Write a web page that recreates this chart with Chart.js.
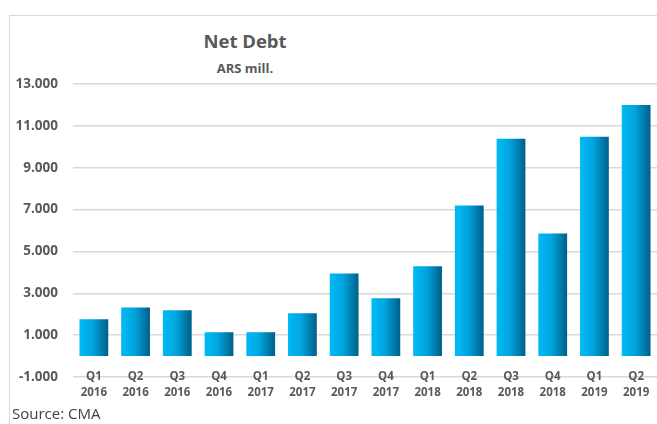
<!DOCTYPE html>
<html lang="en">
<head>
  <meta charset="UTF-8">
  <title>Net Debt</title>
  <style>
    html, body {
      margin: 0;
      padding: 0;
      background: #fff;
      font-family: 'Open Sans', 'DejaVu Sans', sans-serif;
    }
    .wrap {
      position: relative;
      width: 657px;
      height: 424px;
      overflow: hidden;
    }
    .frame {
      position: absolute;
      left: 9px;
      top: 15px;
      width: 700px;
      height: 500px;
      border: 1px solid #d9d9d9;
    }
    .title {
      position: absolute;
      left: 145px;
      width: 200px;
      text-align: center;
      color: #595959;
      font-weight: bold;
    }
    #t1 { top: 28px; font-size: 18.5px; }
    #t2 { top: 59px; font-size: 13px; }
    .source {
      position: absolute;
      left: 12px;
      top: 403px;
      font-size: 15px;
      color: #404040;
    }
    canvas { position: absolute; left: 0; top: 0; }
  </style>
  <script src="https://cdn.jsdelivr.net/npm/chart.js"></script>
</head>
<body>
<div class="wrap">
  <div class="frame"></div>
  <div class="title" id="t1">Net Debt</div>
  <div class="title" id="t2">ARS mill.</div>
  <canvas id="debtChart" width="657" height="424"></canvas>
  <div class="source">Source: CMA</div>
</div>

<script>
  const quarters = ['Q1','Q2','Q3','Q4','Q1','Q2','Q3','Q4','Q1','Q2','Q3','Q4','Q1','Q2'];
  const years = ['2016','2016','2016','2016','2017','2017','2017','2017','2018','2018','2018','2018','2019','2019'];
  const netDebt = [1760, 2320, 2190, 1140, 1140, 2050, 3950, 2760, 4290, 7190, 10380, 5860, 10480, 12000];
  const yMin = -1000, yMax = 13000, yStep = 2000;

  const labels = quarters.map((q, i) => [q, years[i]]);

  function fmt(v) {
    const s = Math.abs(v).toString().replace(/\B(?=(\d{3})+(?!\d))/g, '.');
    return (v < 0 ? '-' : '') + s;
  }

  // horizontal gradient on each bar
  function barFill(ctx) {
    const chart = ctx.chart;
    const xs = chart.scales.x;
    if (!xs || ctx.dataIndex === undefined) return '#00a5dd';
    const cx = xs.getPixelForValue(ctx.dataIndex);
    const w = (xs.width / labels.length) * 0.69;
    if (!isFinite(cx) || !isFinite(w) || w <= 0) return '#00a5dd';
    const g = chart.ctx.createLinearGradient(cx - w / 2, 0, cx + w / 2, 0);
    g.addColorStop(0, '#00baf5');
    g.addColorStop(0.45, '#00a6df');
    g.addColorStop(1, '#005f88');
    return g;
  }

  const ctx = document.getElementById('debtChart').getContext('2d');
  new Chart(ctx, {
    type: 'bar',
    data: {
      labels: labels,
      datasets: [{
        data: netDebt,
        backgroundColor: barFill,
        borderWidth: 0,
        barPercentage: 0.69,
        categoryPercentage: 1
      }]
    },
    options: {
      responsive: false,
      animation: false,
      layout: { padding: { left: 10, top: 84, right: 0, bottom: 0 } },
      plugins: {
        legend: { display: false },
        tooltip: { enabled: false }
      },
      scales: {
        x: {
          grid: { display: false, drawTicks: false },
          border: { display: false },
          ticks: {
            color: '#595959',
            font: { family: "'Open Sans', sans-serif", size: 11.5, weight: 'bold', lineHeight: 1.4 },
            mirror: true,   // mirror switches off the label clip so the first line can sit on the -1.000 line
            padding: -8,
            maxRotation: 0,
            autoSkip: false
          },
          afterFit: s => { s.height = 47; }
        },
        y: {
          min: yMin,
          max: yMax,
          grid: { color: '#d9d9d9', lineWidth: 1.5, drawTicks: false },
          border: { display: false },
          ticks: {
            stepSize: yStep,
            color: '#595959',
            font: { family: "'Open Sans', sans-serif", size: 13.5, weight: 'bold' },
            padding: 15,
            callback: v => fmt(v)
          },
          afterFit: s => { s.width = 63; }
        }
      }
    }
  });
</script>
</body>
</html>
